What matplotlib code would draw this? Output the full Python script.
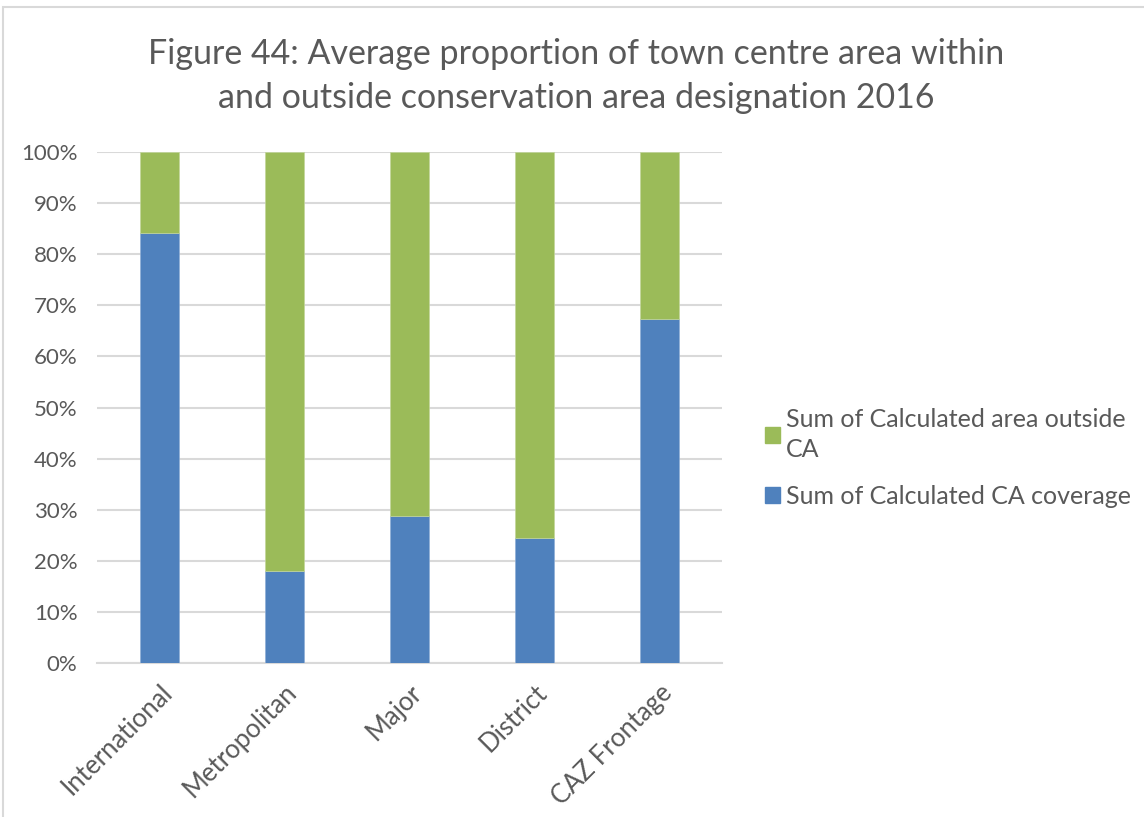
import matplotlib.pyplot as plt
from matplotlib.patches import Rectangle, Patch
from matplotlib.ticker import PercentFormatter

############################################
## Data
############################################

categories = ["International", "Metropolitan", "Major", "District", "CAZ Frontage"]
ca_coverage = [84.1, 18.1, 28.8, 24.5, 67.4]
outside_ca = [15.9, 81.9, 71.2, 75.5, 32.6]

title = "Figure 44: Average proportion of town centre area within\nand outside conservation area designation 2016"
label_outside = "Sum of Calculated area outside\nCA"
label_coverage = "Sum of Calculated CA coverage"

blue = "#4f81bd"
green = "#9bbb59"
text_color = "#595959"
grid_color = "#d9d9d9"

plt.rcParams['font.family'] = ['Lato', 'DejaVu Sans']

############################################
## Figure
############################################

fig = plt.figure(figsize=(11.44, 8.17), dpi=100)
fig.patches.append(Rectangle((3 / 1144, -0.01), 1.1, 1.01 - 7 / 817, transform=fig.transFigure,
                             fill=False, edgecolor=grid_color, linewidth=1.5))

ax = fig.add_axes([97 / 1144, 1 - 663 / 817, 625 / 1144, 511 / 817])

x = range(len(categories))
ax.bar(x, ca_coverage, width=0.31, color=blue, edgecolor="#8eaed6", linewidth=0.5, zorder=3)
ax.bar(x, outside_ca, width=0.31, bottom=ca_coverage, color=green, edgecolor="#c3d69b",
       linewidth=0.5, zorder=3)

ax.set_xlim(-0.5, len(categories) - 0.5)
ax.set_ylim(0, 100)
ax.set_yticks(range(0, 101, 10))
ax.yaxis.set_major_formatter(PercentFormatter(decimals=0))
ax.set_xticks(list(x))
ax.set_xticklabels(categories, rotation=45, ha="right", rotation_mode="anchor")

ax.grid(axis="y", color=grid_color, linewidth=1.5, zorder=0)
for side in ["top", "right", "left"]:
    ax.spines[side].set_visible(False)
ax.spines["bottom"].set_color(grid_color)
ax.spines["bottom"].set_linewidth(1.5)
ax.tick_params(axis="both", length=0, labelcolor=text_color)
ax.tick_params(axis="y", pad=14, labelsize=16)
ax.tick_params(axis="x", pad=12, labelsize=18.5)

fig.text(576 / 1144, 1 - 76 / 817, title, ha="center", va="center", fontsize=24.5,
         color=text_color, linespacing=1.45)

handles = [Patch(color=green), Patch(color=blue)]
leg = fig.legend(handles, [label_outside, label_coverage], loc="center left",
                 bbox_to_anchor=(765 / 1144, 1 - 458 / 817), frameon=False, fontsize=18,
                 labelcolor=text_color, handlelength=0.6, handleheight=0.6,
                 handletextpad=0.25, labelspacing=0.95, borderpad=0, borderaxespad=0)
for t in leg.get_texts():
    t.set_linespacing(1.4)

fig.savefig("out.png", dpi=100)
